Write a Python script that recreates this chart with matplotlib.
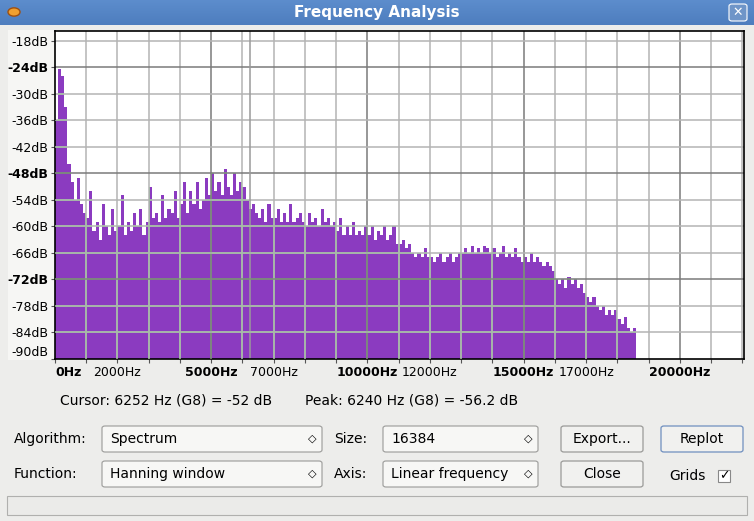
import matplotlib
matplotlib.use("Agg")
import matplotlib.pyplot as plt
from matplotlib.patches import Rectangle, FancyBboxPatch
import numpy as np

W, H = 754, 521
bin_width_hz = 100
spectrum_db = [
    -36, -24.5, -26, -33, -46, -50, -54, -49, -55, -57,
    -58, -52, -61, -59, -63, -55, -60, -62, -56, -61,
    -60, -53, -62, -59, -61, -57, -60, -56, -62, -59,
    -51, -58, -57, -59, -53, -58, -56, -57, -52, -58,
    -55, -50, -57, -52, -55, -50, -56, -54, -49, -53,
    -48, -52, -50, -53, -47, -51, -53, -48, -52, -50,
    -51, -54, -56, -55, -57, -58, -56, -59, -55, -58,
    -58, -56, -59, -57, -59, -55, -59, -58, -57, -59,
    -60, -57, -59, -58, -60, -56, -59, -58, -60, -59,
    -61, -58, -62, -60, -62, -59, -62, -61, -62, -60,
    -62, -60, -63, -61, -62, -60, -63, -62, -60, -64,
    -64, -63, -65, -64, -66, -67, -66, -67, -65, -67,
    -67, -68, -67, -66, -68, -67, -66, -68, -67, -66,
    -66, -65, -66, -64.5, -66, -65, -66, -64.5, -65, -66,
    -65, -67, -66, -64.5, -67, -66, -67, -65, -67, -68,
    -67, -68, -66, -68, -67, -68, -69, -68, -69, -70,
    -72, -73, -72, -74, -71.5, -73, -72, -74, -73, -75,
    -76, -77, -76, -78, -79, -78, -80, -79, -80, -79,
    -81, -82, -80.5, -83, -84, -83,
]
y_ticks_db = [-18, -24, -30, -36, -42, -48, -54, -60, -66, -72, -78, -84, -90]
y_bold_db = [-24, -48, -72]
x_label_hz = [0, 2000, 5000, 7000, 10000, 12000, 15000, 17000, 20000]
x_bold_hz = [0, 5000, 10000, 15000, 20000]
cursor_hz = 6240

fig = plt.figure(figsize=(W/100, H/100), dpi=100)
fig.patch.set_facecolor("#ededeb")

def px(x, y):
    return x / W, 1 - y / H

def rect(x0, y0, x1, y1, fc, ec="none", lw=1, z=-1, rounded=False):
    if rounded:
        p = FancyBboxPatch(((x0)/W, 1-y1/H), (x1-x0)/W, (y1-y0)/H,
                           boxstyle="round,pad=0,rounding_size=0.004",
                           transform=fig.transFigure, fc=fc, ec=ec, lw=lw, zorder=z)
    else:
        p = Rectangle((x0/W, 1-y1/H), (x1-x0)/W, (y1-y0)/H, transform=fig.transFigure,
                      fc=fc, ec=ec, lw=lw, zorder=z)
    fig.patches.append(p)

def txt(x, y, s, **kw):
    kw.setdefault("fontsize", 10)
    kw.setdefault("va", "center")
    fig.text(*px(x, y), s, **kw)

# title bar
for i in range(25):
    c = np.array([0.36, 0.55, 0.80]) * (1 - i/60) + np.array([0.22, 0.40, 0.66]) * (i/60)
    rect(0, i, W, i+1, tuple(np.clip(c, 0, 1)))
txt(W/2, 13, "Frequency Analysis", color="white", fontsize=11, fontweight="bold", ha="center")
rect(729, 4, 747, 21, "#6f95c8", ec="white", lw=0.8, z=2, rounded=True)
txt(738, 12.5, "✕", color="white", fontsize=9, ha="center")
fig.patches.append(plt.Circle(px(14, 12), 6/W, transform=fig.transFigure, fc="#f0a030", ec="#a05010"))
rect(8, 30, 55, 360, "#f6f6f4", z=-2)

# axes
ax = fig.add_axes([55/W, 1-359/H, 689/W, 328/H])
ax.set_facecolor("white")
edges = np.arange(len(spectrum_db) + 1) * bin_width_hz
patch = ax.stairs(spectrum_db, edges, baseline=-100, fill=True, color="#8b3bc0", zorder=1)
ax.set_xlim(0, 22050)
ax.set_ylim(-90, -15.8)

for hz in range(1000, 23000, 1000):
    dark = hz % 5000 == 0
    for clip in (False, True):
        col = ("#7e8e7e" if dark else "#a6bca6") if clip else ("#7a7a7a" if dark else "#b4b4b4")
        ln = ax.axvline(hz, color=col, lw=1.1, zorder=2 + clip)
        if clip:
            ln.set_clip_path(patch)
for db in y_ticks_db[:-1]:
    dark = db in y_bold_db
    for clip in (False, True):
        col = ("#7e8e7e" if dark else "#a6bca6") if clip else ("#7a7a7a" if dark else "#b4b4b4")
        ln = ax.axhline(db, color=col, lw=1.1, zorder=2 + clip)
        if clip:
            ln.set_clip_path(patch)
ax.axvline(cursor_hz, color="#9a9a9a", lw=1.1, zorder=2)

ax.set_yticks(y_ticks_db)
ax.set_yticklabels([f"{d}dB" for d in y_ticks_db], fontsize=9)
for lab, d in zip(ax.get_yticklabels(), y_ticks_db):
    if d in y_bold_db:
        lab.set_fontweight("bold")
ax.get_yticklabels()[-1].set_va("bottom")
ax.set_xticks(list(range(0, 22001, 1000)))
ax.set_xticklabels([f"{h}Hz" if h in x_label_hz else "" for h in range(0, 22001, 1000)], fontsize=9)
for lab, h in zip(ax.get_xticklabels(), range(0, 22001, 1000)):
    if h in x_bold_hz:
        lab.set_fontweight("bold")
    if h == 0:
        lab.set_ha("left")
ax.tick_params(axis="both", length=3, width=0.8, pad=2, color="#555")
for s in ax.spines.values():
    s.set_color("black"); s.set_linewidth(1.2)

# info line
txt(60, 400, "Cursor: 6252 Hz (G8) = -52 dB", fontsize=10)
txt(305, 400, "Peak: 6240 Hz (G8) = -56.2 dB", fontsize=10)

def combo(x0, y0, x1, y1, s):
    rect(x0, y0, x1, y1, "#f7f7f5", ec="#9a9a98", lw=0.8, z=1, rounded=True)
    txt(x0 + 8, (y0+y1)/2, s)
    txt(x1 - 10, (y0+y1)/2, "◇", fontsize=8, ha="center")

def button(x0, y0, x1, y1, s, ec="#9a9a98"):
    rect(x0, y0, x1, y1, "#f1f1ef", ec=ec, lw=0.9, z=1, rounded=True)
    txt((x0+x1)/2, (y0+y1)/2, s, ha="center")

txt(14, 439, "Algorithm:")
combo(102, 426, 322, 452, "Spectrum")
txt(334, 439, "Size:")
combo(383, 426, 538, 452, "16384")
button(561, 426, 643, 452, "Export...")
button(661, 426, 743, 452, "Replot", ec="#6f8fbf")
txt(14, 474, "Function:")
combo(102, 461, 322, 487, "Hanning window")
txt(334, 474, "Axis:")
combo(383, 461, 538, 487, "Linear frequency")
button(561, 461, 643, 487, "Close")
txt(669, 476, "Grids")
rect(718, 470, 730, 482, "white", ec="#888", lw=0.8, z=1)
txt(724, 476, "✓", ha="center", fontsize=9)
rect(7, 496, 747, 515, "#ebebe9", ec="#b0b0ae", lw=0.8)

fig.savefig("out.png", dpi=100, facecolor=fig.get_facecolor())
